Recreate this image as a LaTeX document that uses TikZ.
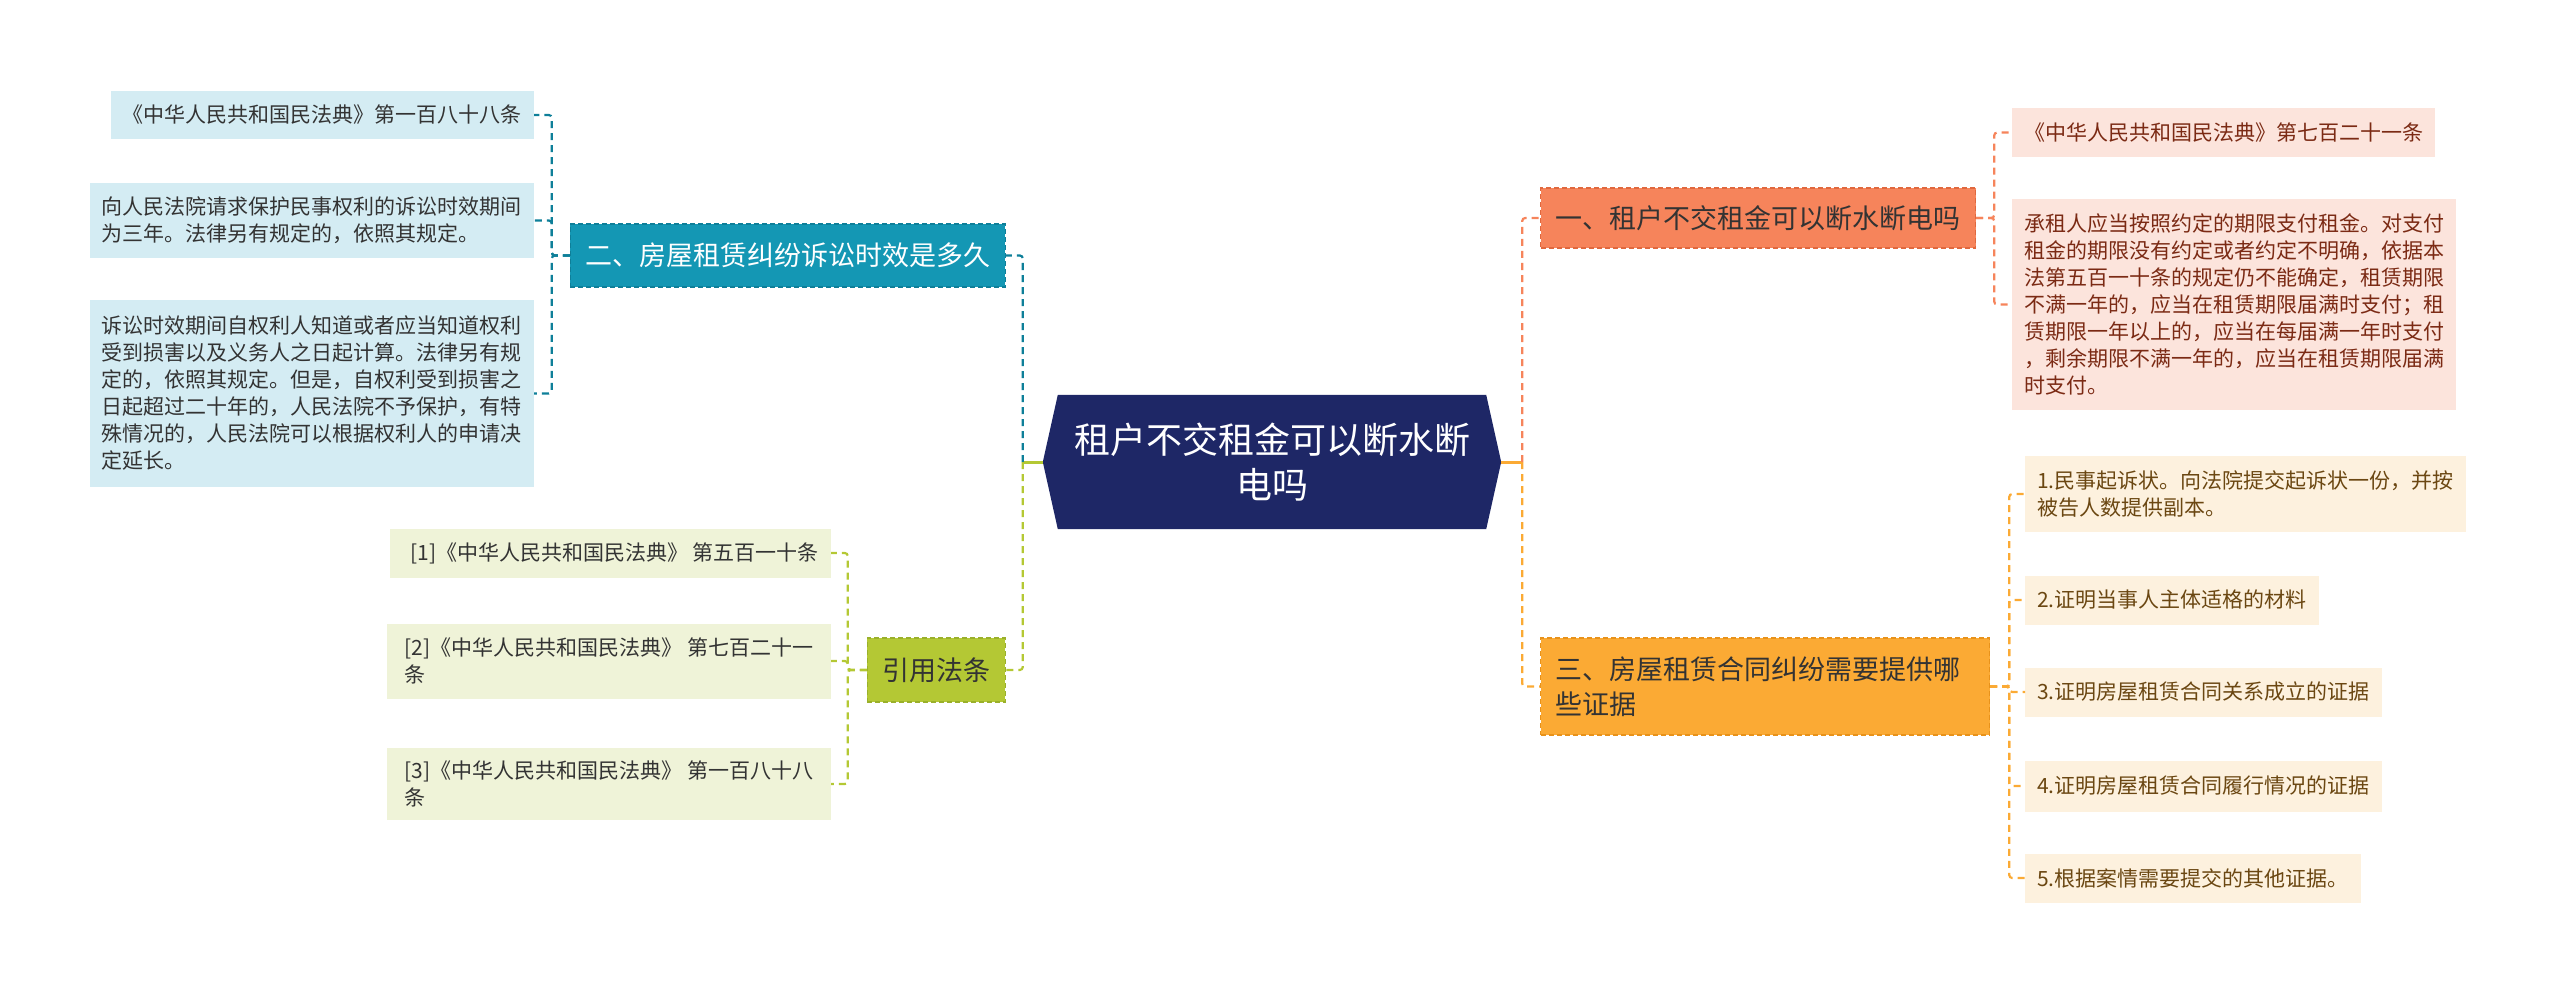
\documentclass[tikz,border=0pt]{standalone}
\usepackage{fontspec}
\setmainfont{Noto Sans CJK SC}
\usetikzlibrary{backgrounds}
\definecolor{navy}{HTML}{1E2766}
\definecolor{teal1}{HTML}{1497B4}
\definecolor{teal2}{HTML}{0E7F99}
\definecolor{blue0}{HTML}{D4ECF3}
\definecolor{lime1}{HTML}{B4C834}
\definecolor{lime2}{HTML}{9AB02A}
\definecolor{lime0}{HTML}{EFF3D8}
\definecolor{coral1}{HTML}{F6845B}
\definecolor{coral2}{HTML}{E0683E}
\definecolor{coral0}{HTML}{FCE4DC}
\definecolor{amber1}{HTML}{FBAA34}
\definecolor{amber2}{HTML}{E8921A}
\definecolor{amber0}{HTML}{FDF1DE}
\definecolor{ink}{HTML}{333333}
\definecolor{rust}{HTML}{7B2A14}
\definecolor{umber}{HTML}{6B4712}
\tikzset{
  root/.style ={text=white, align=center, font=\fontsize{36}{45}\selectfont, minimum width=458pt, minimum height=134pt, inner sep=0pt},
  br/.style   ={rectangle, align=left, inner xsep=15pt, inner ysep=0pt, font=\fontsize{27}{35}\selectfont, line width=1.2pt, dash pattern=on 5pt off 3pt},
  lf/.style   ={rectangle, align=left, inner xsep=12pt, inner ysep=0pt, font=\fontsize{21}{27}\selectfont},
  cn/.style   ={line width=2.2pt, dash pattern=on 7pt off 5pt, rounded corners=3pt},
  stem/.style ={line width=3pt},
}
\begin{document}
\begin{tikzpicture}[x=1pt, y=-1pt]
  \useasboundingbox (0,0) rectangle (2560,995);
  \node[root] (ctr) at (1272,462) {租户不交租金可以断水断\\电吗};
  \begin{scope}[on background layer]
    \fill[navy] (ctr.west) -- ([xshift=15pt]ctr.north west) -- ([xshift=-15pt]ctr.north east) -- (ctr.east)
      -- ([xshift=-15pt]ctr.south east) -- ([xshift=15pt]ctr.south west) -- cycle;
  \end{scope}
  % left side
  \node[br, fill=teal1, draw=teal2, text=white, anchor=east, minimum height=63pt] (b2) at (1006,255.5) {二、房屋租赁纠纷诉讼时效是多久};
  \node[lf, fill=blue0, text=ink, anchor=east, minimum height=48pt] (l1) at (534,115) {《中华人民共和国民法典》第一百八十八条};
  \node[lf, fill=blue0, text=ink, anchor=east, minimum height=75pt] (l2) at (534,220.5) {向人民法院请求保护民事权利的诉讼时效期间\\为三年。法律另有规定的，依照其规定。};
  \node[lf, fill=blue0, text=ink, anchor=east, minimum height=187pt] (l3) at (534,393.5) {诉讼时效期间自权利人知道或者应当知道权利\\受到损害以及义务人之日起计算。法律另有规\\定的，依照其规定。但是，自权利受到损害之\\日起超过二十年的，人民法院不予保护，有特\\殊情况的，人民法院可以根据权利人的申请决\\定延长。};
  \node[br, fill=lime1, draw=lime2, text=ink, anchor=east, minimum height=64pt] (b4) at (1006,670) {引用法条};
  \node[lf, fill=lime0, text=ink, anchor=east, minimum height=49pt, minimum width=434pt] (g1) at (831,553) {\hspace{8pt}[1]《中华人民共和国民法典》 第五百一十条};
  \node[lf, fill=lime0, text=ink, anchor=east, minimum height=75pt, minimum width=444pt] (g2) at (831,661) {[2]《中华人民共和国民法典》 第七百二十一\\条};
  \node[lf, fill=lime0, text=ink, anchor=east, minimum height=72pt, minimum width=444pt] (g3) at (831,784) {[3]《中华人民共和国民法典》 第一百八十八\\条};
  % right side
  \node[br, fill=coral1, draw=coral2, text=ink, anchor=west, minimum height=60pt] (b1) at (1540,218) {一、租户不交租金可以断水断电吗};
  \node[lf, fill=coral0, text=rust, anchor=west, minimum height=49pt] (ra) at (2012,132.5) {《中华人民共和国民法典》第七百二十一条};
  \node[lf, fill=coral0, text=rust, anchor=west, minimum height=211pt] (rb) at (2012,304.5) {承租人应当按照约定的期限支付租金。对支付\\租金的期限没有约定或者约定不明确，依据本\\法第五百一十条的规定仍不能确定，租赁期限\\不满一年的，应当在租赁期限届满时支付；租\\赁期限一年以上的，应当在每届满一年时支付\\，剩余期限不满一年的，应当在租赁期限届满\\时支付。};
  \node[br, fill=amber1, draw=amber2, text=ink, anchor=west, minimum height=97pt, text width=419pt] (b3) at (1540,686.5) {三、房屋租赁合同纠纷需要提供哪\\些证据};
  \node[lf, fill=amber0, text=umber, anchor=west, minimum height=76pt] (i1) at (2025,494) {1.民事起诉状。向法院提交起诉状一份，并按\\被告人数提供副本。};
  \node[lf, fill=amber0, text=umber, anchor=west, minimum height=49pt] (i2) at (2025,600) {2.证明当事人主体适格的材料};
  \node[lf, fill=amber0, text=umber, anchor=west, minimum height=49pt] (i3) at (2025,692) {3.证明房屋租赁合同关系成立的证据};
  \node[lf, fill=amber0, text=umber, anchor=west, minimum height=51pt] (i4) at (2025,786) {4.证明房屋租赁合同履行情况的证据};
  \node[lf, fill=amber0, text=umber, anchor=west, minimum height=49pt] (i5) at (2025,878) {5.根据案情需要提交的其他证据。};
  % connectors
  \draw[stem, lime1] (ctr.west) -- ++(-20,0) coordinate (jl);
  \draw[cn, teal2] (jl) |- (b2.east);
  \draw[cn, lime1] (jl) |- (b4.east);
  \draw[stem, amber1] (ctr.east) -- ++(21,0) coordinate (jr);
  \draw[cn, coral1] (jr) |- (b1.west);
  \draw[cn, amber1] (jr) |- (b3.west);
  \foreach \n in {l1,l2,l3} \draw[cn, teal2] (b2.west) -- ++(-18,0) |- (\n.east);
  \foreach \n in {g1,g2,g3} \draw[cn, lime1] (b4.west) -- ++(-19,0) |- (\n.east);
  \foreach \n in {ra,rb} \draw[cn, coral1] (b1.east) -- ++(18,0) |- (\n.west);
  \foreach \n in {i1,i2,i3,i4,i5} \draw[cn, amber1] (b3.east) -- ++(19,0) |- (\n.west);
\end{tikzpicture}
\end{document}
